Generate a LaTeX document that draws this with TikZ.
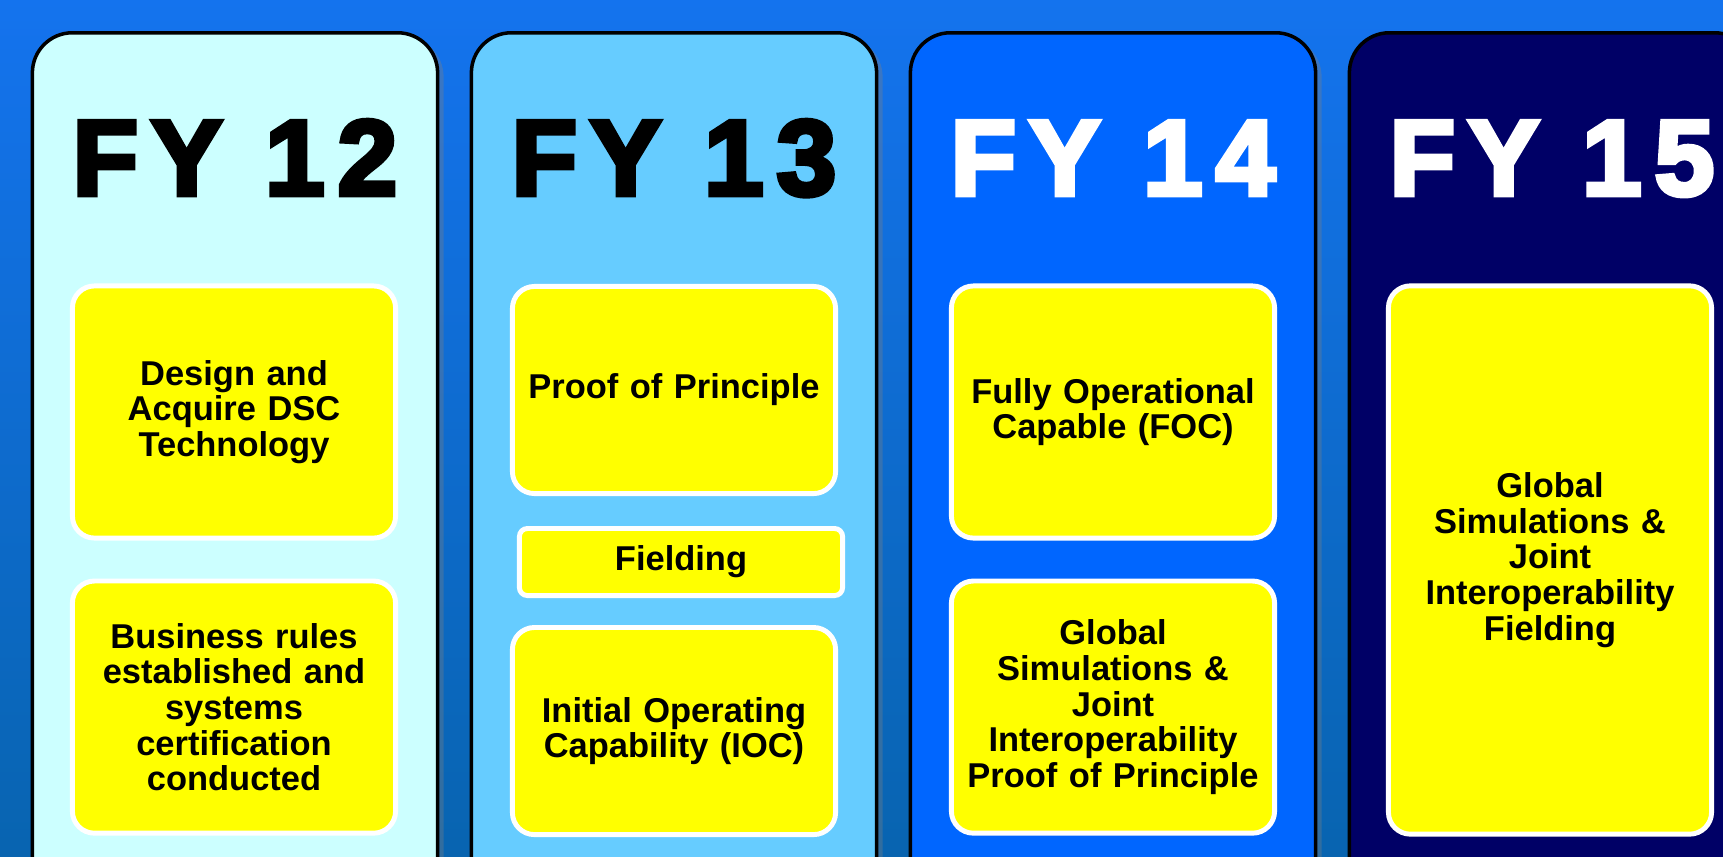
\documentclass[tikz,border=0pt]{standalone}
\usepackage{fontspec}
\usetikzlibrary{positioning,shadows}
\setmainfont{Liberation Sans}
\newfontfamily\yearfont[FakeBold=4.5,LetterSpace=12]{Liberation Sans Bold}
\definecolor{bgtop}{RGB}{20,115,238}
\definecolor{bgbot}{RGB}{8,100,176}
\definecolor{fy12}{RGB}{204,255,255}
\definecolor{fy13}{RGB}{102,204,255}
\definecolor{fy14}{RGB}{0,102,255}
\definecolor{fy15}{RGB}{0,0,102}
\definecolor{goalfill}{RGB}{255,255,0}

\begin{document}
\begin{tikzpicture}[x=0.01cm, y=-0.01cm, node distance=0.38cm,
	panel/.style = {draw=black, line width=1pt, rounded corners=0.4cm, minimum width=4.05cm, minimum height=9cm, anchor=north, drop shadow={shadow xshift=0.06cm, shadow yshift=-0.04cm, opacity=0.35}},
	year/.style = {anchor=base, font=\yearfont\fontsize{30.5}{30.5}\selectfont},
	goal/.style = {draw=white, line width=1.4pt, fill=goalfill, rounded corners=0.22cm, minimum width=3.23cm, text width=2.95cm, align=center, font=\bfseries\fontsize{9.8}{10.15}\selectfont}]
			\clip (0,0) rectangle (1723,857);
			\shade[top color=bgtop, bottom color=bgbot] (0,0) rectangle (1723,857);
			\foreach \n/\x/\c in {12/235/black, 13/674/black, 14/1113/white, 15/1552/white} {
				\node[panel, fill=fy\n] (p\n) at (\x,31) {};
				\node[year, text=\c] (t\n) at (\x,195) {FY \n};
			}
			% FY 12
			\node[goal, minimum height=2.52cm] (design) at (234,412) {Design and\\Acquire DSC\\Technology};
			\node[goal, minimum height=2.52cm, below=of design] (rules) {Business rules\\established and\\systems\\certification\\conducted};
			% FY 13
			\node[goal, minimum height=2.07cm] (proof) at (674,390) {Proof of Principle};
			\node[goal, minimum height=0.67cm, rounded corners=0.08cm, below=0.3cm of proof, xshift=0.07cm] (field) {Fielding};
			\node[goal, minimum height=2.07cm, below=0.27cm of field, xshift=-0.07cm] (ioc) {Initial Operating\\Capability (IOC)};
			% FY 14
			\node[goal, minimum height=2.52cm] (foc) at (1113,412) {Fully Operational\\Capable (FOC)};
			\node[goal, minimum height=2.52cm, below=of foc] (gsim) {Global\\Simulations \&\\Joint\\Interoperability\\Proof of Principle};
			% FY 15
			\node[goal, minimum height=5.48cm] (gfield) at (1550,560) {Global\\Simulations \&\\Joint\\Interoperability\\Fielding};
		\end{tikzpicture}
\end{document}
